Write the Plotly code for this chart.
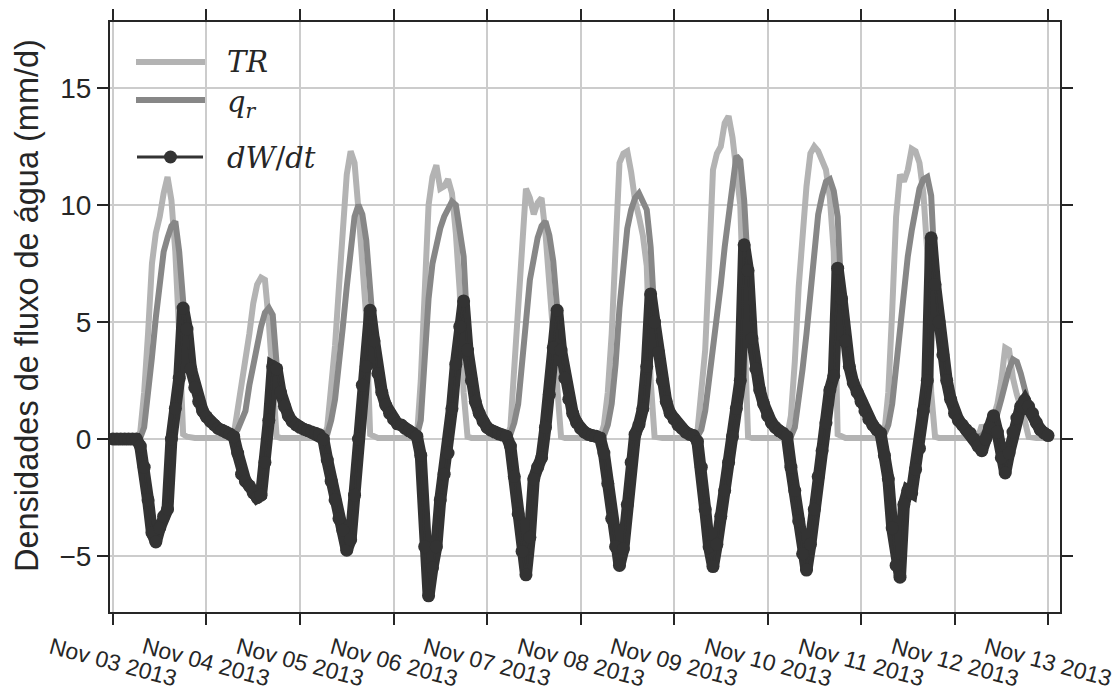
import pandas as pd
import plotly.graph_objects as go

# hourly samples, 2013-11-03 00:00 .. 2013-11-13 00:00 (241 values)
start = "2013-11-03 00:00"
n_hours = 241

TR = [
    0, 0, 0, 0, 0, 0, 0, 0.3, 2.0, 4.5, 7.5, 8.8, 9.5, 10.5, 11.2, 10.2, 8.0, 4.5, 0.2, 0.1, 0.05, 0.05, 0.05, 0.05,
    0.05, 0.05, 0.05, 0.05, 0.05, 0.05, 0.05, 0.2, 1.2, 2.5, 3.3, 4.5, 5.8, 6.6, 6.9, 6.8, 5.0, 2.2, 0.1, 0.05, 0.05, 0.05, 0.05, 0.05,
    0.05, 0.05, 0.05, 0.05, 0.05, 0.05, 0.05, 0.5, 2.0, 4.0, 6.5, 9.0, 11.3, 12.3, 11.8, 9.8, 7.7, 5.2, 0.2, 0.1, 0.05, 0.05, 0.05, 0.05,
    0.05, 0.05, 0.05, 0.05, 0.05, 0.05, 0.05, 2.5, 6.5, 10.0, 11.2, 11.7, 10.7, 10.8, 11.1, 10.5, 8.8, 6.3, 2.0, 0.1, 0.05, 0.05, 0.05, 0.05,
    0.05, 0.05, 0.05, 0.05, 0.05, 0.05, 0.5, 3.0, 6.0, 8.8, 10.7, 10.3, 9.6, 10.1, 10.3, 8.8, 6.5, 4.5, 2.0, 0.1, 0.05, 0.05, 0.05, 0.05,
    0.05, 0.05, 0.05, 0.05, 0.05, 0.05, 0.6, 2.0, 4.5, 8.5, 11.8, 12.2, 12.3, 11.4, 10.2, 9.5, 8.7, 7.4, 2.5, 0.1, 0.05, 0.05, 0.05, 0.05,
    0.05, 0.05, 0.05, 0.05, 0.05, 0.05, 0.3, 1.8, 3.8, 7.5, 11.5, 12.2, 12.5, 13.5, 13.8, 12.9, 11.3, 10.0, 5.0, 0.1, 0.05, 0.05, 0.05, 0.05,
    0.05, 0.05, 0.05, 0.05, 0.05, 0.05, 1.0, 3.3, 6.5, 9.0, 10.8, 12.2, 12.5, 12.3, 11.9, 11.5, 10.3, 8.0, 0.2, 0.1, 0.05, 0.05, 0.05, 0.05,
    0.05, 0.05, 0.05, 0.05, 0.05, 0.05, 0.3, 2.0, 5.5, 9.5, 11.3, 11.0, 11.5, 12.4, 12.3, 11.8, 10.5, 8.0, 2.0, 0.1, 0.05, 0.05, 0.05, 0.05,
    0.05, 0.05, 0.05, 0.05, 0.05, 0.05, 0.05, 0.6, 0.2, 0.4, 0.9, 1.5, 2.5, 3.9, 3.8, 2.6, 1.9, 1.4, 0.8, 0.1, 0.05, 0.05, 0.05, 0.05, 0.05,
]

QR = [
    0, 0, 0, 0, 0, 0, 0, 0.05, 0.5, 1.8, 3.5, 5.2, 6.8, 8.0, 8.6, 9.1, 9.3, 8.0, 5.9, 4.7, 3.0, 2.2, 1.6, 1.2,
    0.95, 0.75, 0.6, 0.45, 0.38, 0.3, 0.22, 0.2, 0.4, 0.9, 1.2, 2.3, 3.2, 3.9, 4.8, 5.4, 5.6, 5.3, 3.2, 2.1, 1.4, 1.0, 0.75, 0.6,
    0.5, 0.42, 0.36, 0.3, 0.25, 0.18, 0.1, 0.2, 0.8, 1.7, 3.0, 4.8, 6.5, 8.3, 9.5, 10.0, 9.6, 8.5, 6.3, 4.3, 2.8, 2.0, 1.45, 1.1,
    0.85, 0.65, 0.6, 0.45, 0.35, 0.25, 0.15, 0.8, 3.5, 6.0, 7.5, 8.3, 9.0, 9.5, 9.9, 10.15, 10.0, 9.0, 7.8, 4.5, 2.6, 1.7, 1.15, 0.8,
    0.5, 0.38, 0.3, 0.22, 0.17, 0.12, 0.2, 0.7, 1.5, 3.0, 5.0, 6.8, 7.9, 8.6, 9.1, 9.3, 8.7, 7.6, 5.6, 3.8, 2.6, 1.7, 1.1, 0.7,
    0.45, 0.3, 0.2, 0.15, 0.12, 0.1, 0.15, 0.6, 1.5, 3.2, 5.6, 7.6, 9.0, 9.8, 10.3, 10.5, 10.2, 9.8, 8.2, 5.2, 3.7, 2.5, 1.6, 1.1,
    0.85, 0.6, 0.45, 0.3, 0.2, 0.15, 0.1, 0.4, 1.2, 2.5, 4.0, 5.4, 6.6, 8.2, 9.6, 10.9, 12.1, 11.9, 10.2, 7.2, 4.3, 3.0, 2.1, 1.5,
    1.05, 0.7, 0.5, 0.35, 0.25, 0.15, 0.1, 0.5, 1.6, 3.0, 4.5, 6.3, 8.2, 9.6, 10.4, 11.0, 11.1, 10.6, 9.5, 6.0, 4.2, 3.1, 2.4, 2.0,
    1.6, 1.2, 0.85, 0.6, 0.4, 0.25, 0.2, 0.6, 1.5, 3.0, 4.8, 6.5, 7.8, 8.9, 9.9, 10.7, 11.1, 11.2, 10.4, 7.0, 5.0, 3.6, 2.5, 1.7,
    1.1, 0.8, 0.6, 0.4, 0.25, 0.15, 0.1, 0.15, 0.3, 0.5, 0.8, 1.1, 1.7, 2.4, 3.0, 3.4, 3.3, 2.8, 2.1, 1.5, 1.1, 0.7, 0.45, 0.3, 0.2,
]

DWDT = [
    0, 0, 0, 0, 0, 0, 0, -0.3, -1.2, -2.6, -4.0, -4.4, -3.8, -3.3, -3.0, 0.0, 1.3, 2.6, 5.6, 4.7, 3.0, 2.2, 1.6, 1.2,
    0.95, 0.75, 0.6, 0.45, 0.38, 0.3, 0.22, 0.1, -0.6, -1.5, -1.8, -2.0, -2.3, -2.5, -2.4, -1.0, 0.8, 3.1, 3.0, 2.0, 1.4, 1.0, 0.75, 0.6,
    0.5, 0.42, 0.36, 0.3, 0.25, 0.18, 0.0, -0.9, -1.8, -2.6, -3.4, -3.9, -4.75, -4.3, -2.4, 0.0, 2.3, 3.1, 5.5, 4.2, 2.8, 2.0, 1.45, 1.1,
    0.85, 0.65, 0.6, 0.45, 0.35, 0.25, 0.12, -0.7, -4.6, -6.7, -5.5, -4.6, -2.6, -1.5, -0.6, 1.3, 3.2, 4.8, 5.9, 3.8, 2.5, 1.6, 1.1, 0.75,
    0.5, 0.38, 0.3, 0.22, 0.17, 0.12, -0.3, -1.6, -3.2, -4.8, -5.8, -4.2, -1.7, -1.2, -0.8, 0.5, 1.9, 3.9, 5.5, 3.8, 2.6, 1.7, 1.1, 0.7,
    0.45, 0.3, 0.2, 0.15, 0.12, 0.05, -0.6, -1.9, -3.4, -4.6, -5.4, -4.7, -2.8, -1.0, 0.2, 0.6, 1.3, 3.1, 6.2, 5.0, 3.7, 2.5, 1.6, 1.1,
    0.85, 0.6, 0.45, 0.3, 0.2, 0.15, -0.1, -1.2, -3.0, -4.6, -5.45, -4.5, -3.3, -2.2, -1.0, 0.1, 1.3, 2.5, 8.3, 7.2, 4.3, 3.0, 2.1, 1.5,
    1.0, 0.7, 0.5, 0.35, 0.25, 0.1, -1.2, -2.2, -3.5, -4.9, -5.6, -4.5, -3.0, -1.6, -0.5, 0.7, 2.1, 2.7, 7.3, 6.0, 4.2, 3.1, 2.4, 2.0,
    1.6, 1.2, 0.85, 0.6, 0.4, 0.25, -0.7, -1.7, -3.8, -5.4, -5.9, -2.8, -2.2, -2.3, -1.3, -0.4, 1.2, 2.5, 8.6, 6.6, 5.0, 3.6, 2.5, 1.7,
    1.1, 0.8, 0.6, 0.4, 0.25, 0.0, -0.3, -0.5, 0.0, 0.5, 1.0, 0.3, -0.8, -1.45, -0.6, 0.3, 0.9, 1.4, 1.65, 1.4, 1.1, 0.7, 0.4, 0.25, 0.15,
]

TICK_DATES = pd.date_range("2013-11-03", "2013-11-13", freq="D")
TICK_LABELS = [d.strftime("%b %d %Y") for d in TICK_DATES]
Y_TICKS = [-5, 0, 5, 10, 15]
LEGEND_NAMES = ["<i>TR</i>", "<i>q<sub>r</sub></i>", "<i>dW</i>/<i>dt</i>"]
Y_TITLE = "Densidades de fluxo de água (mm/d)"

t = pd.date_range(start, periods=n_hours, freq="h")

C_TR = "#b3b3b3"
C_QR = "#878787"
C_DW = "#333333"
INK = "#262626"
SANS = "Liberation Sans, Arial, sans-serif"
SERIF = "DejaVu Serif, serif"

fig = go.Figure()
fig.add_trace(go.Scatter(x=t, y=TR, mode="lines", name=LEGEND_NAMES[0],
                         line=dict(color=C_TR, width=6), showlegend=False))
fig.add_trace(go.Scatter(x=t, y=QR, mode="lines", name=LEGEND_NAMES[1],
                         line=dict(color=C_QR, width=6), showlegend=False))
# dense-looking band under the dots (same series)
fig.add_trace(go.Scatter(x=t, y=DWDT, mode="lines", name="band",
                         line=dict(color=C_DW, width=12), showlegend=False, hoverinfo="skip"))
fig.add_trace(go.Scatter(x=t, y=DWDT, mode="lines+markers", name=LEGEND_NAMES[2],
                         line=dict(color=C_DW, width=2),
                         marker=dict(color=C_DW, size=13, line=dict(width=0)),
                         showlegend=False))

annotations = []
for d, lab in zip(TICK_DATES, TICK_LABELS):
    annotations.append(dict(x=d, xref="x", y=-0.084, yref="paper", text=lab,
                            showarrow=False, textangle=15, xanchor="center", yanchor="middle",
                            font=dict(family=SANS, size=23, color=INK)))

# pixel -> paper helpers for the plot area (l=110, t=22, w=950, h=590)
L, B_ = 110, 612
W, H = 950, 590
def px(x):
    return (x - L) / W
def py(y):
    return (B_ - y) / H

# y-axis title
annotations.append(dict(x=px(27), y=py(306), xref="paper", yref="paper", text=Y_TITLE,
                        showarrow=False, textangle=-90, xanchor="center", yanchor="middle",
                        font=dict(family=SANS, size=32.5, color=INK)))

# hand-placed legend
shapes = [
    dict(type="line", xref="paper", yref="paper", x0=px(136), x1=px(205), y0=py(62), y1=py(62),
         line=dict(color=C_TR, width=6)),
    dict(type="line", xref="paper", yref="paper", x0=px(136), x1=px(205), y0=py(100), y1=py(100),
         line=dict(color=C_QR, width=6)),
    dict(type="line", xref="paper", yref="paper", x0=px(137), x1=px(203), y0=py(157), y1=py(157),
         line=dict(color=C_DW, width=3)),
    dict(type="circle", xref="paper", yref="paper", x0=px(164), x1=px(177), y0=py(163.5), y1=py(150.5),
         fillcolor=C_DW, line=dict(color=C_DW, width=0)),
]
for name, yy in zip(LEGEND_NAMES, [62, 104, 158]):
    annotations.append(dict(x=px(225), y=py(yy), xref="paper", yref="paper", text=name,
                            showarrow=False, xanchor="left", yanchor="middle",
                            font=dict(family=SERIF, size=29, color=INK)))

fig.update_layout(
    width=1119, height=691,
    margin=dict(l=110, r=59, t=22, b=79),
    paper_bgcolor="white", plot_bgcolor="white",
    annotations=annotations,
    shapes=shapes,
    showlegend=False,
    xaxis=dict(type="date",
               range=["2013-11-02 23:14", "2013-11-13 03:04"],
               tickvals=TICK_DATES, showticklabels=False,
               ticks="outside", ticklen=11, tickwidth=2, tickcolor=INK,
               showline=True, linecolor=INK, linewidth=2, mirror="ticks",
               showgrid=True, gridcolor="#cccccc", gridwidth=1.5,
               zeroline=False, automargin=False),
    yaxis=dict(range=[-7.39, 17.82], tickvals=Y_TICKS,
               ticks="outside", ticklen=11, tickwidth=2, tickcolor=INK,
               showline=True, linecolor=INK, linewidth=2, mirror="ticks",
               showgrid=True, gridcolor="#cccccc", gridwidth=1.5,
               zeroline=False, automargin=False,
               tickfont=dict(family=SANS, size=28, color=INK)),
)

fig.write_html("out.html")
